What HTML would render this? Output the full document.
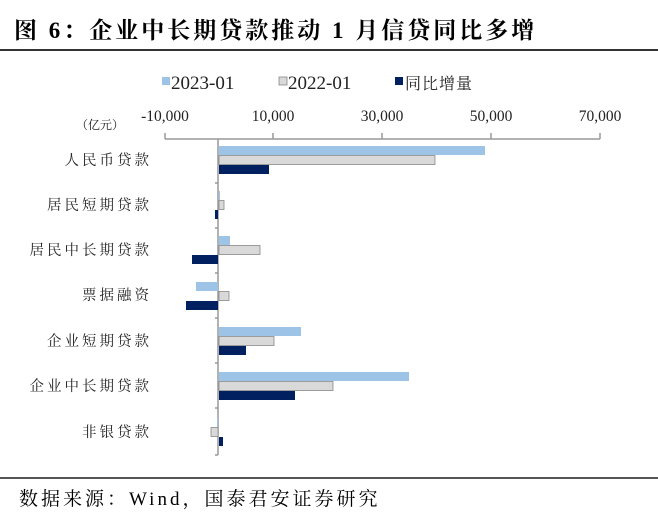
<!DOCTYPE html>
<html><head><meta charset="utf-8"><style>
html,body{margin:0;padding:0;background:#fff;}
svg{display:block;}
</style></head><body>
<svg width="658" height="528" viewBox="0 0 658 528" xmlns="http://www.w3.org/2000/svg">
<text x="14" y="38" font-family="'Liberation Serif','Noto Serif CJK SC',serif" font-size="23" font-weight="bold" letter-spacing="3" fill="#000">图 6：企业中长期贷款推动 1 月信贷同比多增</text>
<rect x="0" y="49" width="658" height="2" fill="#333"/>
<!-- legend -->
<g font-family="'Liberation Serif','Noto Serif CJK SC',serif" font-size="19" fill="#222">
<rect x="162" y="77" width="8" height="8" fill="#9dc3e6"/>
<text x="171" y="89">2023-01</text>
<rect x="279" y="77" width="8" height="8" fill="#d9d9d9" stroke="#888" stroke-width="0.8"/>
<text x="288" y="89">2022-01</text>
<rect x="395" y="77" width="8" height="8" fill="#002060"/>
<text x="405" y="89" font-size="16" letter-spacing="1">同比增量</text>
</g>
<!-- axis labels -->
<g font-family="'Liberation Serif',serif" font-size="15.5" fill="#222" text-anchor="middle">
<text x="165" y="121">-10,000</text>
<text x="273" y="121">10,000</text>
<text x="382" y="121">30,000</text>
<text x="491" y="121">50,000</text>
<text x="600" y="121">70,000</text>
</g>
<text x="100" y="129" text-anchor="middle" font-family="'Noto Serif CJK SC',serif" font-size="12" fill="#222">（亿元）</text>
<!-- top axis -->
<g stroke="#999" stroke-width="1.5">
<line x1="165" y1="139" x2="600" y2="139"/>
<line x1="165" y1="133" x2="165" y2="139"/>
<line x1="273" y1="133" x2="273" y2="139"/>
<line x1="382" y1="133" x2="382" y2="139"/>
<line x1="491" y1="133" x2="491" y2="139"/>
<line x1="600" y1="133" x2="600" y2="139"/>
<line x1="218" y1="139" x2="218" y2="455"/>
<line x1="215" y1="183" x2="218" y2="183"/>
<line x1="215" y1="228" x2="218" y2="228"/>
<line x1="215" y1="273" x2="218" y2="273"/>
<line x1="215" y1="318" x2="218" y2="318"/>
<line x1="215" y1="363" x2="218" y2="363"/>
<line x1="215" y1="408" x2="218" y2="408"/>
<line x1="215" y1="455" x2="218" y2="455"/>
</g>
<!-- bars -->
<g>
<rect x="219" y="146" width="266" height="9" fill="#9dc3e6"/>
<rect x="219" y="155.5" width="216" height="9" fill="#d9d9d9" stroke="#888" stroke-width="0.8"/>
<rect x="219" y="165" width="50" height="9" fill="#002060"/>
<rect x="219" y="191" width="1" height="9" fill="#9dc3e6"/>
<rect x="219" y="200.5" width="5" height="9" fill="#d9d9d9" stroke="#888" stroke-width="0.8"/>
<rect x="215" y="210" width="3" height="9" fill="#002060"/>
<rect x="219" y="236" width="11" height="9" fill="#9dc3e6"/>
<rect x="219" y="245.5" width="41" height="9" fill="#d9d9d9" stroke="#888" stroke-width="0.8"/>
<rect x="192" y="255" width="26" height="9" fill="#002060"/>
<rect x="196" y="282" width="22" height="9" fill="#9dc3e6"/>
<rect x="219" y="291.5" width="10" height="9" fill="#d9d9d9" stroke="#888" stroke-width="0.8"/>
<rect x="186" y="301" width="32" height="9" fill="#002060"/>
<rect x="219" y="327" width="82" height="9" fill="#9dc3e6"/>
<rect x="219" y="336.5" width="55" height="9" fill="#d9d9d9" stroke="#888" stroke-width="0.8"/>
<rect x="219" y="346" width="27" height="9" fill="#002060"/>
<rect x="219" y="372" width="190" height="9" fill="#9dc3e6"/>
<rect x="219" y="381.5" width="114" height="9" fill="#d9d9d9" stroke="#888" stroke-width="0.8"/>
<rect x="219" y="391" width="76" height="9" fill="#002060"/>
<rect x="217" y="418" width="1" height="9" fill="#9dc3e6"/>
<rect x="211" y="427.5" width="7" height="9" fill="#d9d9d9" stroke="#888" stroke-width="0.8"/>
<rect x="219" y="437" width="4" height="9" fill="#002060"/>
</g>
<!-- category labels -->
<g font-family="'Noto Serif CJK SC',serif" font-size="14.5" fill="#222" text-anchor="end" letter-spacing="3">
<text x="152" y="165">人民币贷款</text>
<text x="152" y="210">居民短期贷款</text>
<text x="152" y="255">居民中长期贷款</text>
<text x="152" y="300">票据融资</text>
<text x="152" y="346">企业短期贷款</text>
<text x="152" y="391">企业中长期贷款</text>
<text x="152" y="437">非银贷款</text>
</g>
<rect x="0" y="477" width="658" height="2" fill="#555"/>
<text x="19" y="505" font-family="'Liberation Serif','Noto Serif CJK SC',serif" font-size="19" letter-spacing="3" fill="#000">数据来源：Wind，国泰君安证券研究</text>
</svg>
</body></html>
